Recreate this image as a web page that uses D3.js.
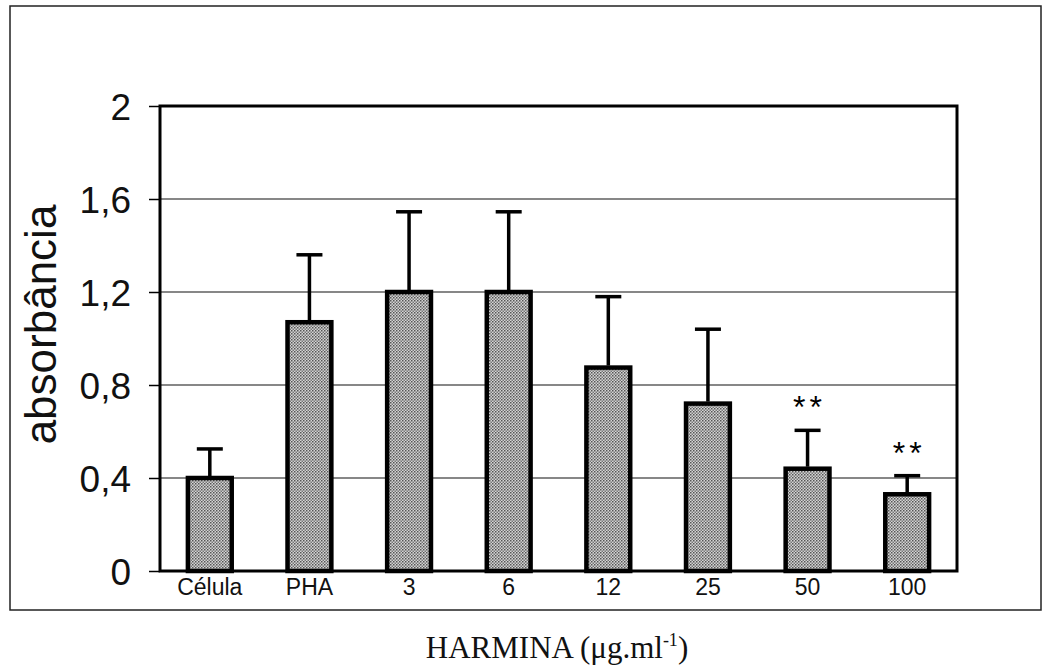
<!DOCTYPE html>
<html lang="pt">
<head>
    <meta charset="UTF-8">
    <title>Harmina - absorbância</title>
    <script src="https://d3js.org/d3.v7.min.js"></script>
    <style>
        body { margin: 0; background: #fff; }
        svg { display: block; }
    </style>
</head>
<body>
    <svg></svg>
    <script>
        const categories = ["Célula", "PHA", "3", "6", "12", "25", "50", "100"];
        const means = [0.40, 1.07, 1.20, 1.20, 0.875, 0.72, 0.44, 0.33];
        const errors = [0.125, 0.29, 0.345, 0.345, 0.305, 0.32, 0.165, 0.08];
        const marks = ["", "", "", "", "", "", "**", "**"];
        const yTicks = [0, 0.4, 0.8, 1.2, 1.6, 2];
        const yTickLabels = ["0", "0,4", "0,8", "1,2", "1,6", "2"];

        const width = 1043, height = 669;
        const plot = {left: 160, right: 957, top: 106, bottom: 571};

        const svg = d3.select("svg").attr("width", width).attr("height", height);

        // halftone fill for the bars
        const pat = svg.append("defs").append("pattern")
            .attr("id", "dots").attr("patternUnits", "userSpaceOnUse")
            .attr("width", 3).attr("height", 3);
        pat.append("rect").attr("width", 3).attr("height", 3).attr("fill", "#d4d4d4");
        pat.append("rect").attr("width", 1.5).attr("height", 1.5).attr("fill", "#555");
        pat.append("rect").attr("x", 1.5).attr("y", 1.5).attr("width", 1.5).attr("height", 1.5).attr("fill", "#777");

        // outer frame
        svg.append("rect")
            .attr("x", 10).attr("y", 6).attr("width", 1031).attr("height", 604)
            .attr("fill", "none").attr("stroke", "#222").attr("stroke-width", 1.5);

        const x = d3.scaleBand().domain(categories)
            .range([plot.left, plot.right]).paddingInner(0.56).paddingOuter(0.28);
        const y = d3.scaleLinear().domain([0, 2]).range([plot.bottom, plot.top]);

        // gridlines
        svg.append("g").selectAll("line").data(yTicks.slice(1, -1)).join("line")
            .attr("x1", plot.left).attr("x2", plot.right)
            .attr("y1", d => y(d)).attr("y2", d => y(d))
            .attr("stroke", "#111").attr("stroke-width", 1.2);

        // y axis ticks + labels
        const yAxis = svg.append("g").attr("transform", `translate(${plot.left},0)`)
            .call(d3.axisLeft(y).tickValues(yTicks).tickSize(11).tickPadding(18)
                .tickFormat((d, i) => yTickLabels[i]));
        yAxis.select(".domain").remove();
        yAxis.selectAll(".tick line").attr("stroke", "#000").attr("stroke-width", 1.5);
        yAxis.selectAll(".tick text")
            .attr("font-family", "Arial, 'Liberation Sans', sans-serif")
            .attr("font-size", 37).attr("fill", "#111").attr("dy", "0.36em");

        // bars
        svg.append("g").selectAll("rect").data(categories).join("rect")
            .attr("x", d => x(d))
            .attr("y", (d, i) => y(means[i]))
            .attr("width", x.bandwidth())
            .attr("height", (d, i) => y(0) - y(means[i]))
            .attr("fill", "url(#dots)")
            .attr("stroke", "#000").attr("stroke-width", 4.5);

        // error bars (upper only)
        const eb = svg.append("g").selectAll("g").data(categories).join("g")
            .attr("stroke", "#000").attr("stroke-width", 3.5);
        eb.append("line")
            .attr("x1", d => x(d) + x.bandwidth() / 2).attr("x2", d => x(d) + x.bandwidth() / 2)
            .attr("y1", (d, i) => y(means[i]) - 2).attr("y2", (d, i) => y(means[i] + errors[i]));
        eb.append("line")
            .attr("x1", d => x(d) + x.bandwidth() / 2 - 13).attr("x2", d => x(d) + x.bandwidth() / 2 + 13)
            .attr("y1", (d, i) => y(means[i] + errors[i])).attr("y2", (d, i) => y(means[i] + errors[i]));

        // significance marks
        svg.append("g").selectAll("text").data(categories).join("text")
            .attr("x", d => x(d) + x.bandwidth() / 2 + 2)
            .attr("y", (d, i) => y(means[i] + errors[i]) - 12)
            .attr("text-anchor", "middle")
            .attr("font-family", "Arial, 'Liberation Sans', sans-serif")
            .attr("font-size", 32).attr("letter-spacing", 4)
            .text((d, i) => marks[i]);

        // plot frame
        svg.append("rect")
            .attr("x", plot.left).attr("y", plot.top)
            .attr("width", plot.right - plot.left).attr("height", plot.bottom - plot.top)
            .attr("fill", "none").attr("stroke", "#000").attr("stroke-width", 3);

        // x labels
        const xAxis = svg.append("g").attr("transform", `translate(0,${plot.bottom})`)
            .call(d3.axisBottom(x).tickSize(0).tickPadding(8));
        xAxis.select(".domain").remove();
        xAxis.selectAll(".tick text")
            .attr("font-family", "Arial, 'Liberation Sans', sans-serif")
            .attr("font-size", 23).attr("fill", "#111");

        // axis titles
        svg.append("text")
            .attr("transform", `translate(56,${(plot.top + plot.bottom) / 2 - 14}) rotate(-90)`)
            .attr("text-anchor", "middle")
            .attr("font-family", "Arial, 'Liberation Sans', sans-serif")
            .attr("font-size", 44).attr("fill", "#111")
            .text("absorbância");

        const xt = svg.append("text")
            .attr("x", 557).attr("y", 658)
            .attr("text-anchor", "middle")
            .attr("font-family", "'Times New Roman', 'Liberation Serif', serif")
            .attr("font-size", 31).attr("fill", "#111");
        xt.append("tspan").text("HARMINA (μg.ml");
        xt.append("tspan").attr("dy", -12).attr("font-size", 18).text("-1");
        xt.append("tspan").attr("dy", 12).text(")");
    </script>
</body>
</html>
